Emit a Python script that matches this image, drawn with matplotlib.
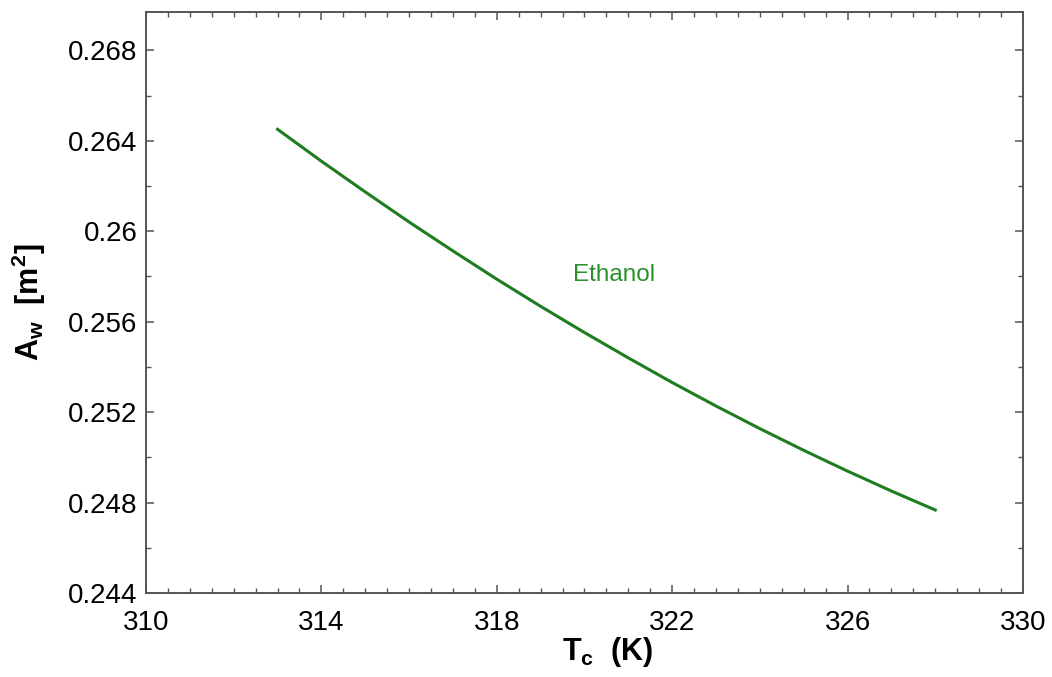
import numpy as np
import matplotlib.pyplot as plt
from matplotlib.ticker import FixedLocator, MultipleLocator, FuncFormatter

plt.rcParams['font.family'] = ['Liberation Sans', 'DejaVu Sans']
plt.rcParams['mathtext.fontset'] = 'custom'
plt.rcParams['mathtext.rm'] = 'Liberation Sans'
plt.rcParams['mathtext.bf'] = 'Liberation Sans:bold'

# Condenser temperature (K) and required wall area (m^2) for ethanol
T_c = [313, 314, 315, 316, 317, 318, 319, 320, 321, 322, 323, 324, 325, 326, 327, 328]
A_w = [0.26451, 0.26310, 0.26174, 0.26041, 0.25913, 0.25788, 0.25668, 0.25552,
       0.25440, 0.25331, 0.25227, 0.25127, 0.25031, 0.24939, 0.24851, 0.24767]

x_ticks = [310, 314, 318, 322, 326, 330]
y_ticks = [0.244, 0.248, 0.252, 0.256, 0.26, 0.264, 0.268]

line_color = '#1e7d1e'
text_color = '#2b8f2b'

fig = plt.figure(figsize=(10.52, 6.77), dpi=100)
ax = fig.add_axes([0.1388, 0.1241, 0.8336, 0.8582])

ax.plot(T_c, A_w, color=line_color, linewidth=2.2)
ax.text(319.74, 0.25806, 'Ethanol', color=text_color, fontsize=17.5, va='center', ha='left')

ax.set_xlim(310, 330)
ax.set_ylim(0.244, 0.2697)
ax.xaxis.set_major_locator(FixedLocator(x_ticks))
ax.xaxis.set_minor_locator(MultipleLocator(0.5))
ax.yaxis.set_major_locator(FixedLocator(y_ticks))
ax.yaxis.set_minor_locator(MultipleLocator(0.002))
ax.yaxis.set_major_formatter(FuncFormatter(lambda v, _: f"{v:g}"))

ax.tick_params(which='both', direction='in', top=True, right=True, colors='#555555',
               labelcolor='black', labelsize=20)
ax.tick_params(which='major', length=6, width=1.1)
ax.tick_params(which='minor', length=3.5, width=1.0)
ax.tick_params(axis='x', which='major', pad=12)
ax.tick_params(axis='y', which='major', pad=6)

for spine in ax.spines.values():
    spine.set_color('#555555')
    spine.set_linewidth(1.4)

ax.set_xlabel(r'$\mathbf{T_c}$  (K)', fontsize=22, fontweight='bold')
ax.xaxis.set_label_coords(0.527, -0.072)
ax.set_ylabel(r'$\mathbf{A_w}$  [m$^\mathbf{2}$]', fontsize=22, fontweight='bold')
ax.yaxis.set_label_coords(-0.112, 0.5)

fig.savefig('out.png', dpi=100)
